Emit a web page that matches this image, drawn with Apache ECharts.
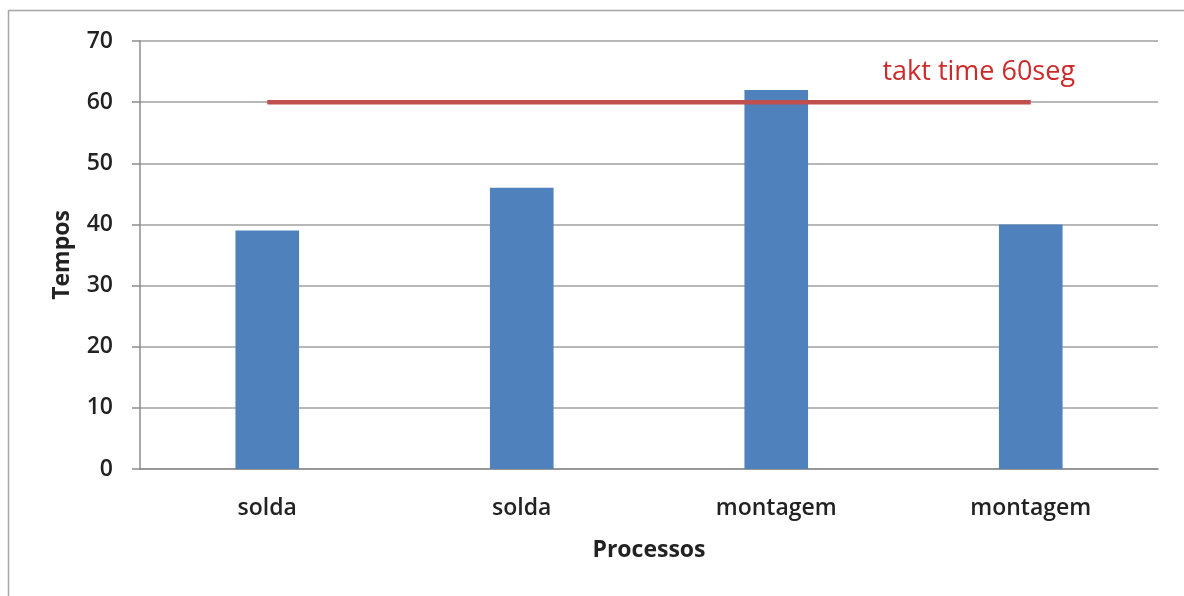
<!DOCTYPE html>
<html>
<head>
<meta charset="utf-8">
<script src="https://cdn.jsdelivr.net/npm/echarts@6/dist/echarts.min.js"></script>
<style>
  html, body { margin: 0; padding: 0; background: #fff; }
  #chart { width: 1184px; height: 596px; }
</style>
</head>
<body>
<div id="chart"></div>
<script>
// Process times per workstation, with the takt time reference
const categories = ['solda', 'solda', 'montagem', 'montagem'];
const tempos = [39, 46, 62, 40];
const taktTime = 60;
const yTicks = [0, 10, 20, 30, 40, 50, 60, 70];

const FONT = '"Open Sans", "DejaVu Sans", sans-serif';

const taktData = categories.map((c, i) => {
  if (i === categories.length - 1) {
    return {
      value: taktTime,
      label: {
        show: true,
        position: 'top',
        distance: 16,
        offset: [-52, 0],
        formatter: 'takt time ' + taktTime + 'seg',
        color: '#CC2B2B',
        fontFamily: FONT,
        fontSize: 27
      }
    };
  }
  return taktTime;
});

const chart = echarts.init(document.getElementById('chart'), null, { renderer: 'canvas' });
chart.setOption({
  animation: false,
  backgroundColor: '#ffffff',
  graphic: [{
    type: 'rect',
    shape: { x: 8.5, y: 10.5, width: 1300, height: 700 },
    style: { fill: 'none', stroke: '#a6a6a6', lineWidth: 1.5 },
    silent: true,
    z: -10
  }],
  grid: { left: 140, right: 26, top: 41, bottom: 127 },
  xAxis: {
    type: 'category',
    data: categories,
    boundaryGap: true,
    name: 'Processos',
    nameLocation: 'middle',
    nameGap: 70,
    nameTextStyle: { fontFamily: FONT, fontSize: 23, fontWeight: 'bold', color: '#222' },
    axisLine: { lineStyle: { color: '#8c8c8c', width: 1.5 } },
    axisTick: { show: false },
    axisLabel: { margin: 28, fontFamily: FONT, fontSize: 23, fontWeight: 600, color: '#222' }
  },
  yAxis: {
    type: 'value',
    min: yTicks[0],
    max: yTicks[yTicks.length - 1],
    interval: 10,
    name: 'Tempos',
    nameLocation: 'middle',
    nameGap: 66,
    nameRotate: 90,
    nameTextStyle: { fontFamily: FONT, fontSize: 23, fontWeight: 'bold', color: '#222' },
    axisLine: { show: true, lineStyle: { color: '#8c8c8c', width: 1.5 } },
    axisTick: { show: true, inside: false, length: 8, lineStyle: { color: '#8c8c8c', width: 1.5 } },
    axisLabel: { margin: 27, fontFamily: FONT, fontSize: 23, fontWeight: 600, color: '#222' },
    splitLine: { lineStyle: { color: '#a0a0a0', width: 1.5 } }
  },
  series: [
    {
      name: 'Tempos',
      type: 'bar',
      data: tempos,
      barWidth: '25%',
      itemStyle: { color: '#4F81BD' },
      z: 2
    },
    {
      name: 'takt time',
      type: 'line',
      data: taktData,
      symbol: 'circle',
      symbolSize: 0,
      lineStyle: { color: '#C0504D', width: 4.5 },
      itemStyle: { color: '#C0504D' },
      z: 3
    }
  ]
});
</script>
</body>
</html>
